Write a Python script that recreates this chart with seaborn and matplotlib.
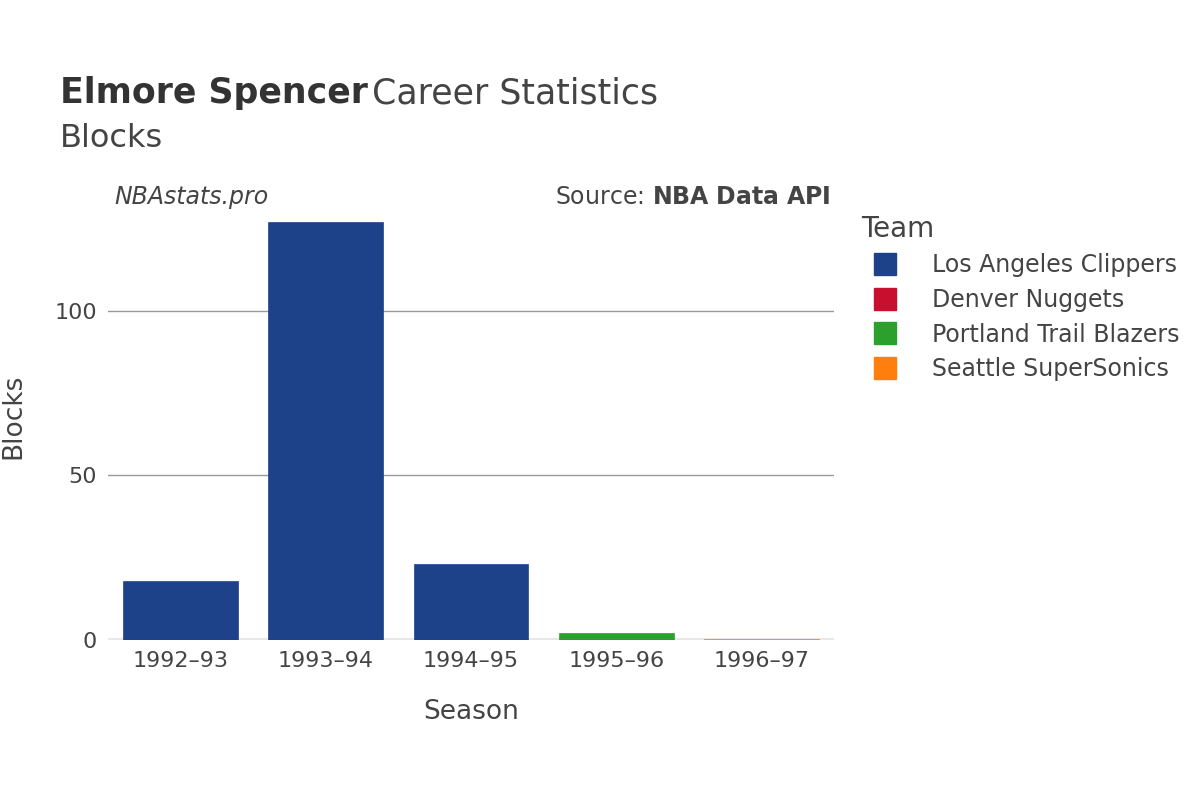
import matplotlib
matplotlib.use("Agg")
import matplotlib.pyplot as plt
import seaborn as sns
import pandas as pd
from matplotlib.lines import Line2D

seasons = ["1992–93", "1993–94", "1994–95", "1995–96", "1996–97"]
teams = ["Los Angeles Clippers", "Los Angeles Clippers", "Los Angeles Clippers", "Portland Trail Blazers", "Seattle SuperSonics"]
blocks = [18, 127, 23, 2, 0.3]
legend_teams = ["Los Angeles Clippers", "Denver Nuggets", "Portland Trail Blazers", "Seattle SuperSonics"]
colors = {"Los Angeles Clippers": "#1d428a", "Denver Nuggets": "#c8102e",
          "Portland Trail Blazers": "#2ca02c", "Seattle SuperSonics": "#ff7f0e"}

df = pd.DataFrame({"Season": seasons, "Team": teams, "Blocks": blocks})
plt.rcParams["font.family"] = "DejaVu Sans"
fig = plt.figure(figsize=(12, 8), dpi=100)
ax = fig.add_axes([0.09, 0.2, 0.605, 0.56])
sns.barplot(data=df, x="Season", y="Blocks", hue="Team", palette=colors, dodge=False,
            width=0.79, ax=ax, legend=False, zorder=3, saturation=1)
for p in ax.patches:
    p.set_edgecolor(p.get_facecolor()); p.set_linewidth(0.5)
ax.set_ylim(0, 136)
ax.set_xlim(-0.5, 4.5)
ax.set_yticks([0, 50, 100])
ax.grid(axis="y", color="#999999", linewidth=1, zorder=0)
ax.axhline(0, color="#e8e8e8", linewidth=3, zorder=2)
for s in ax.spines.values():
    s.set_visible(False)
ax.tick_params(length=0, labelsize=16, colors="#444444", pad=8)
ax.set_xlabel("Season", fontsize=19, color="#444444", labelpad=20)
ax.set_ylabel("Blocks", fontsize=19, color="#444444", labelpad=20)

fig.text(0.05, 0.871, "Elmore Spencer", fontsize=25, fontweight="bold", color="#333333")
fig.text(0.31, 0.871, "Career Statistics", fontsize=25, color="#444444")
fig.text(0.05, 0.816, "Blocks", fontsize=23, color="#444444")
fig.text(0.095, 0.745, "NBAstats.pro", fontsize=17, style="italic", color="#444444")
fig.text(0.692, 0.745, "Source: $\\bf{NBA\\ Data\\ API}$", fontsize=17, color="#444444", ha="right")

handles = [Line2D([0], [0], marker="s", linestyle="", markersize=16, markerfacecolor=colors[t],
                  markeredgecolor=colors[t]) for t in legend_teams]
leg = fig.legend(handles, legend_teams, loc="upper left", bbox_to_anchor=(0.70, 0.758),
                 frameon=False, fontsize=17, title="Team", title_fontsize=20,
                 labelspacing=0.45, handletextpad=1.0, alignment="left")
for t in leg.get_texts():
    t.set_color("#444444")
leg.get_title().set_color("#444444")
fig.savefig("out.png", dpi=100)
